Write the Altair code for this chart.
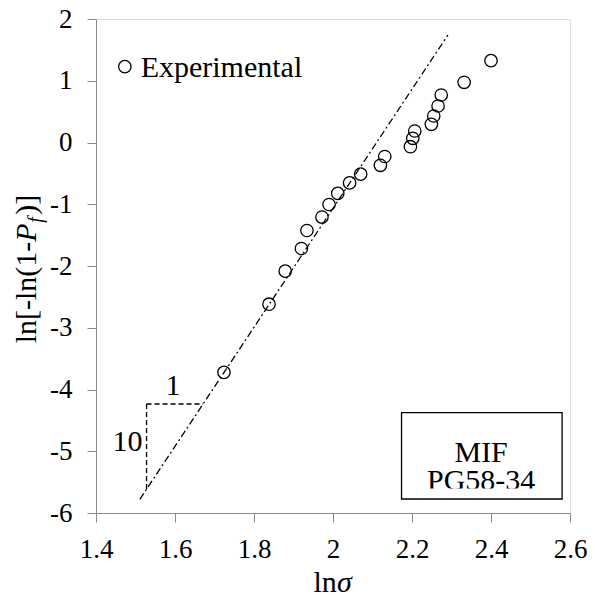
import altair as alt
import pandas as pd

# Experimental points (ln sigma, ln[-ln(1-Pf)])
ln_sigma = [1.724, 1.838, 1.879, 1.920, 1.934, 1.972, 1.990, 2.012, 2.042, 2.070,
            2.120, 2.131, 2.196, 2.202, 2.207, 2.249, 2.255, 2.266, 2.274, 2.332, 2.400]
ln_pf = [-3.722, -2.619, -2.083, -1.717, -1.425, -1.207, -1.004, -0.824, -0.654, -0.512,
         -0.369, -0.227, -0.068, 0.068, 0.186, 0.295, 0.429, 0.591, 0.769, 0.975, 1.325]

# Fitted line end points
fit_x = [1.511, 2.291]
fit_y = [-5.778, 1.741]

# Slope triangle (run 1, rise 10)
tri_x = [1.528, 1.671]
tri_y = [-4.235, -5.628]

# Legend / annotation box
legend_pt = [1.473, 1.228]
box_x = [2.1735, 2.580]
box_y = [-4.376, -5.773]

ann_text = ["Experimental", "1", "10", "MIF", "PG58-34"]
ann_x = [1.513, 1.595, 1.518, 2.375, 2.375]
ann_y = [1.056, -4.089, -4.996, -5.169, -5.628]
ann_align = ["left", "center", "right", "center", "center"]

x_ticks = [1.4, 1.6, 1.8, 2.0, 2.2, 2.4, 2.6]
y_ticks = [-6, -5, -4, -3, -2, -1, 0, 1, 2]

FONT = "Liberation Serif"
GRAY = "#8a8a8a"
W, H = 474, 494

xs = alt.Scale(domain=[1.4, 2.6], nice=False, zero=False)
ys = alt.Scale(domain=[-6, 2], nice=False, zero=False)

xaxis = alt.Axis(values=x_ticks, title=None, grid=False, tickSize=9, tickColor=GRAY,
                 domainColor=GRAY, labelFont=FONT, labelFontSize=27, labelColor="black",
                 labelPadding=14, labelFlush=False, labelOverlap=False,
                 labelExpr="'' + datum.value")
yaxis = alt.Axis(values=y_ticks, title=None, grid=False, tickSize=9, tickColor=GRAY,
                 domainColor=GRAY, labelFont=FONT, labelFontSize=27, labelColor="black",
                 labelPadding=15, labelFlush=False, labelOverlap=False,
                 labelExpr="'' + datum.value")

pts = pd.DataFrame({"x": ln_sigma, "y": ln_pf})
points = alt.Chart(pts).mark_point(shape="circle", filled=False, size=154,
                                   stroke="black", strokeWidth=1.3, opacity=1).encode(
    x=alt.X("x:Q", scale=xs, axis=xaxis),
    y=alt.Y("y:Q", scale=ys, axis=yaxis),
)

fit = alt.Chart(pd.DataFrame({"x": fit_x, "y": fit_y})).mark_line(
    color="black", strokeWidth=1.3, strokeDash=[7, 3, 2, 3]).encode(
    x=alt.X("x:Q", scale=xs), y=alt.Y("y:Q", scale=ys))

tri_h = alt.Chart(pd.DataFrame({"x": [tri_x[0]], "x2": [tri_x[1]], "y": [tri_y[0]]})).mark_rule(
    color="black", strokeWidth=1.3, strokeDash=[5, 3]).encode(
    x=alt.X("x:Q", scale=xs), x2="x2:Q", y=alt.Y("y:Q", scale=ys))
tri_v = alt.Chart(pd.DataFrame({"x": [tri_x[0]], "y": [tri_y[0]], "y2": [tri_y[1]]})).mark_rule(
    color="black", strokeWidth=1.3, strokeDash=[5, 3]).encode(
    x=alt.X("x:Q", scale=xs), y=alt.Y("y:Q", scale=ys), y2="y2:Q")

box = alt.Chart(pd.DataFrame({"x": [box_x[0]], "x2": [box_x[1]],
                              "y": [box_y[0]], "y2": [box_y[1]]})).mark_rect(
    fill="white", stroke="black", strokeWidth=1.3).encode(
    x=alt.X("x:Q", scale=xs), x2="x2:Q", y=alt.Y("y:Q", scale=ys), y2="y2:Q")

leg = alt.Chart(pd.DataFrame({"x": [legend_pt[0]], "y": [legend_pt[1]]})).mark_point(
    shape="circle", filled=False, size=154, stroke="black", strokeWidth=1.3, opacity=1).encode(
    x=alt.X("x:Q", scale=xs), y=alt.Y("y:Q", scale=ys))

ann_layers = []
for t, ax, ay, al in zip(ann_text, ann_x, ann_y, ann_align):
    ann_layers.append(
        alt.Chart(pd.DataFrame({"x": [ax], "y": [ay], "t": [t]})).mark_text(
            font=FONT, fontSize=30, color="black", align=al, baseline="alphabetic").encode(
            x=alt.X("x:Q", scale=xs), y=alt.Y("y:Q", scale=ys), text="t:N"))

one = pd.DataFrame({"a": [0]})

# the box's inner area clips the bottom of the "PG58-34" line
clip_cover = alt.Chart(one).mark_rect(fill="white", stroke=None).encode(
    x=alt.value(308), x2=alt.value(463), y=alt.value(469.5), y2=alt.value(479))

def ptext(txt, px, py, size=30, style="normal", angle=0, align="left"):
    kw = dict(text=txt, font=FONT, fontSize=size, color="black", align=align,
              baseline="alphabetic", fontStyle=style)
    if angle:
        kw["angle"] = angle
    return alt.Chart(one).mark_text(**kw).encode(x=alt.value(px), y=alt.value(py))

# y-axis title: ln[-ln(1-P_f)] built from pieces, rotated
bx, by = -60.5, 324.3
ytitle = [
    ptext("ln[-ln(1-", bx, by, angle=270),
    ptext("P", bx, by - 101.6, style="italic", angle=270),
    ptext("f", bx + 6, by - 120.5, size=20, style="italic", angle=270),
    ptext(")]", bx, by - 128.5, angle=270),
]
# x-axis title: ln sigma
xtitle = [
    ptext("ln", 217.5, 573),
    ptext("σ", 241, 573, style="italic"),
]

chart = alt.layer(
    fit, tri_h, tri_v, points, leg, box, *ann_layers, clip_cover, *ytitle, *xtitle
).properties(
    width=W, height=H,
    autosize=alt.AutoSizeParams(type="none"),
    padding={"left": 88, "top": 11, "right": 17, "bottom": 80},
).configure_view(stroke="#6e6e6e", strokeWidth=1).configure(background="white")

chart.save("out.html", embed_options={"renderer": "svg", "actions": False})
